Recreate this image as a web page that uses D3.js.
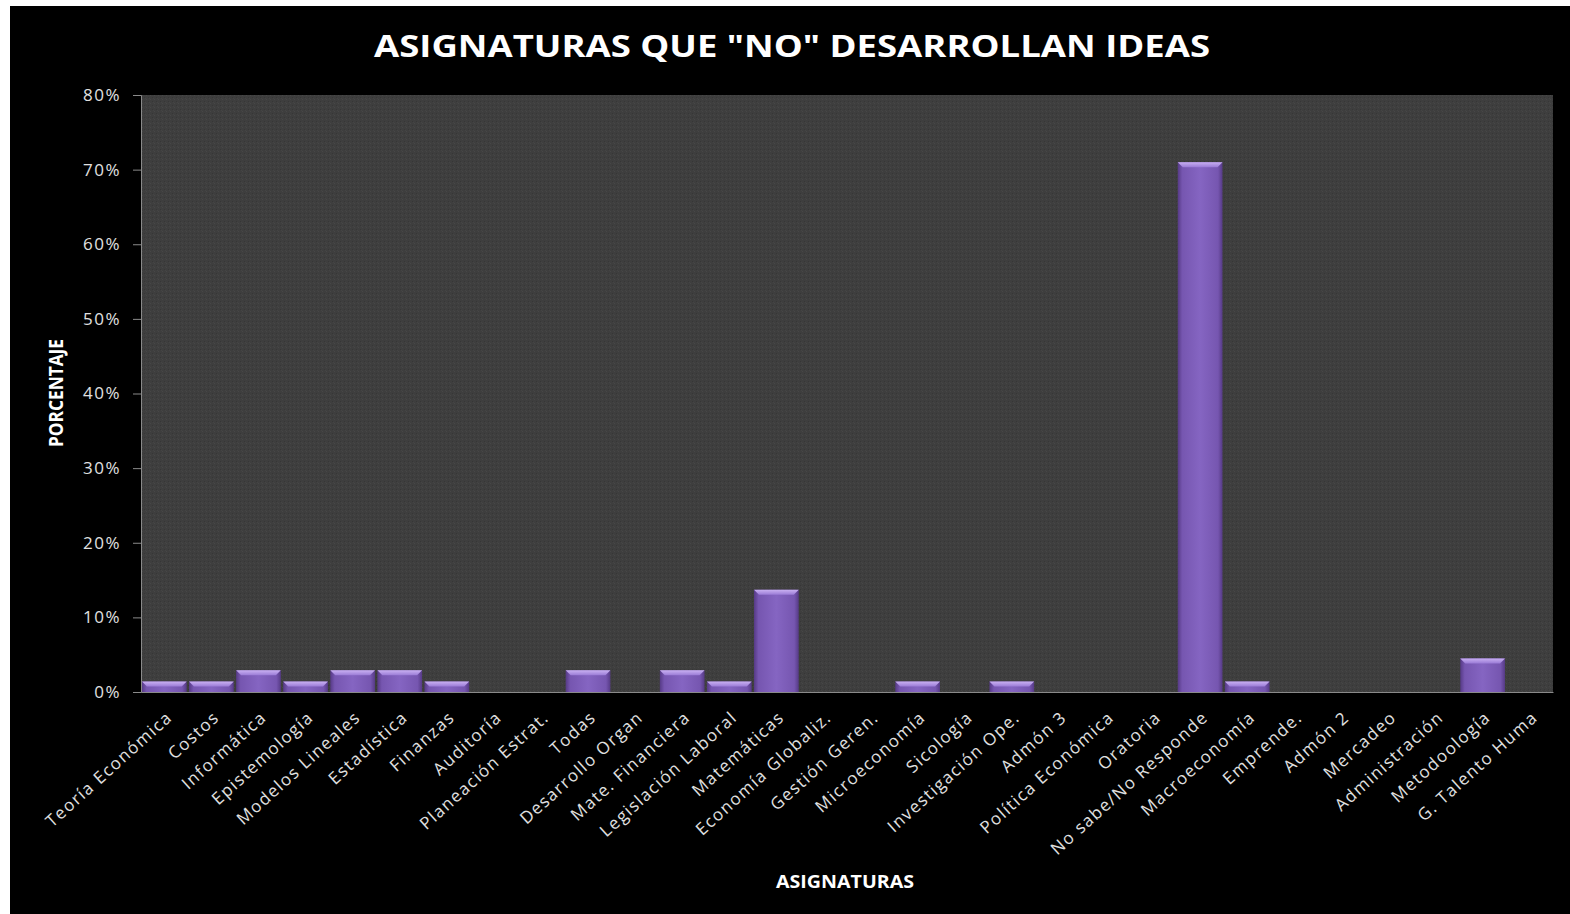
<html>
<head>
<meta charset="utf-8">
<title>Asignaturas</title>
<style>
body { margin: 0; background: white; }
svg { display: block; }
.axis text { fill: #e0e0e0; font-family: "Open Sans", sans-serif; }
.axis .domain { stroke: #8a8a8a; }
.axis .tick line { stroke: #8a8a8a; }
</style>
</head>
<body>
<svg id="chart" width="1570" height="914"></svg>
<script src="https://cdn.jsdelivr.net/npm/d3@7/dist/d3.min.js"></script>
<script>

var categories = ["Teoría Económica", "Costos", "Informática", "Epistemología", "Modelos Lineales",
  "Estadística", "Finanzas", "Auditoría", "Planeación Estrat.", "Todas", "Desarrollo Organ",
  "Mate. Financiera", "Legislación Laboral", "Matemáticas", "Economía Globaliz.", "Gestión Geren.",
  "Microeconomía", "Sicología", "Investigación Ope.", "Admón 3", "Política Económica", "Oratoria",
  "No sabe/No Responde", "Macroeconomía", "Emprende.", "Admón 2", "Mercadeo", "Administración",
  "Metodoología", "G. Talento Huma"];
var values = [1.4, 1.4, 2.9, 1.4, 2.9, 2.9, 1.4, 0, 0, 2.9, 0, 2.9, 1.4, 13.7, 0, 0,
  1.4, 0, 1.4, 0, 0, 0, 71, 1.4, 0, 0, 0, 0, 4.5, 0];
var yTicks = [0, 10, 20, 30, 40, 50, 60, 70, 80];

var data = categories.map(function(c, i) { return {name: c, value: values[i]}; });

var svg = d3.select("#chart");
var margin = {top: 95, left: 141, right: 17, bottom: 222};
var width = 1570 - margin.left - margin.right;
var height = 914 - margin.top - margin.bottom;

// black card
svg.append("rect").attr("x", 10).attr("y", 6).attr("width", 1560).attr("height", 908).attr("fill", "black");

var defs = svg.append("defs");
var pat = defs.append("pattern").attr("id", "tex").attr("width", 4).attr("height", 4)
  .attr("patternUnits", "userSpaceOnUse");
pat.append("rect").attr("width", 4).attr("height", 4).attr("fill", "#3e3e3e");
pat.append("rect").attr("width", 1).attr("height", 1).attr("x", 1).attr("y", 0).attr("fill", "#474747");
pat.append("rect").attr("width", 1).attr("height", 1).attr("x", 3).attr("y", 2).attr("fill", "#363636");
pat.append("rect").attr("width", 1).attr("height", 1).attr("x", 0).attr("y", 3).attr("fill", "#444");

var grad = defs.append("linearGradient").attr("id", "barG").attr("x1", "0").attr("x2", "1").attr("y1", "0").attr("y2", "0");
grad.append("stop").attr("offset", "0%").attr("stop-color", "#563a86");
grad.append("stop").attr("offset", "10%").attr("stop-color", "#7656b0");
grad.append("stop").attr("offset", "50%").attr("stop-color", "#8565c2");
grad.append("stop").attr("offset", "90%").attr("stop-color", "#7656b0");
grad.append("stop").attr("offset", "100%").attr("stop-color", "#563a86");

var bev = defs.append("linearGradient").attr("id", "bevG").attr("x1", "0").attr("x2", "0").attr("y1", "0").attr("y2", "1");
bev.append("stop").attr("offset", "0%").attr("stop-color", "#c9b0f2");
bev.append("stop").attr("offset", "100%").attr("stop-color", "#9a7bd6");

var g = svg.append("g").attr("transform", "translate(" + margin.left + "," + margin.top + ")");

g.append("rect").attr("width", width).attr("height", height).attr("fill", "url(#tex)");

var x = d3.scaleBand().domain(categories).range([0, width]).paddingInner(0.05).paddingOuter(0.02);
var y = d3.scaleLinear().domain([0, 80]).range([height, 0]);

g.selectAll(".bar").data(data.filter(function(d) { return d.value > 0; }))
  .enter().append("rect")
  .attr("class", "bar")
  .attr("x", function(d) { return x(d.name); })
  .attr("y", function(d) { return y(d.value); })
  .attr("width", x.bandwidth())
  .attr("height", function(d) { return height - y(d.value); })
  .attr("fill", "url(#barG)");

// bevel on top of bars
g.selectAll(".bevel").data(data.filter(function(d) { return d.value > 0; }))
  .enter().append("path")
  .attr("class", "bevel")
  .attr("d", function(d) {
    var x0 = x(d.name), x1 = x0 + x.bandwidth(), t = y(d.value), b = 5;
    return "M" + x0 + "," + t + "L" + x1 + "," + t + "L" + (x1 - b) + "," + (t + b) + "L" + (x0 + b) + "," + (t + b) + "Z";
  })
  .attr("fill", "url(#bevG)");

var yAxis = g.append("g").attr("class", "axis")
  .call(d3.axisLeft(y).tickValues(yTicks).tickSize(8).tickPadding(12).tickFormat(function(d) { return d + "%"; }));
yAxis.selectAll("text").style("font-size", "17px").style("letter-spacing", "1.5px");

var xAxis = g.append("g").attr("class", "axis").attr("transform", "translate(0," + height + ")")
  .call(d3.axisBottom(x).tickSize(0).tickPadding(0));
xAxis.selectAll("text")
  .style("font-size", "17px")
  .style("letter-spacing", "1.4px")
  .attr("text-anchor", "end")
  .attr("dy", "0")
  .attr("transform", "translate(9,27) rotate(-42)");

svg.append("text").attr("x", 792).attr("y", 57).attr("text-anchor", "middle")
  .attr("fill", "white").attr("font-family", "'Open Sans', sans-serif").attr("font-weight", "bold")
  .attr("font-size", 30).attr("textLength", 836).attr("lengthAdjust", "spacingAndGlyphs")
  .text('ASIGNATURAS QUE "NO" DESARROLLAN IDEAS');

svg.append("text").attr("transform", "translate(63,393) rotate(-90)").attr("text-anchor", "middle")
  .attr("fill", "white").attr("font-family", "'Open Sans', sans-serif").attr("font-weight", "bold")
  .attr("font-size", 19).attr("textLength", 108).attr("lengthAdjust", "spacingAndGlyphs")
  .text("PORCENTAJE");

svg.append("text").attr("x", 845).attr("y", 888).attr("text-anchor", "middle")
  .attr("fill", "white").attr("font-family", "'Open Sans', sans-serif").attr("font-weight", "bold")
  .attr("font-size", 17).attr("textLength", 138).attr("lengthAdjust", "spacingAndGlyphs")
  .text("ASIGNATURAS");

</script>
</body>
</html>
